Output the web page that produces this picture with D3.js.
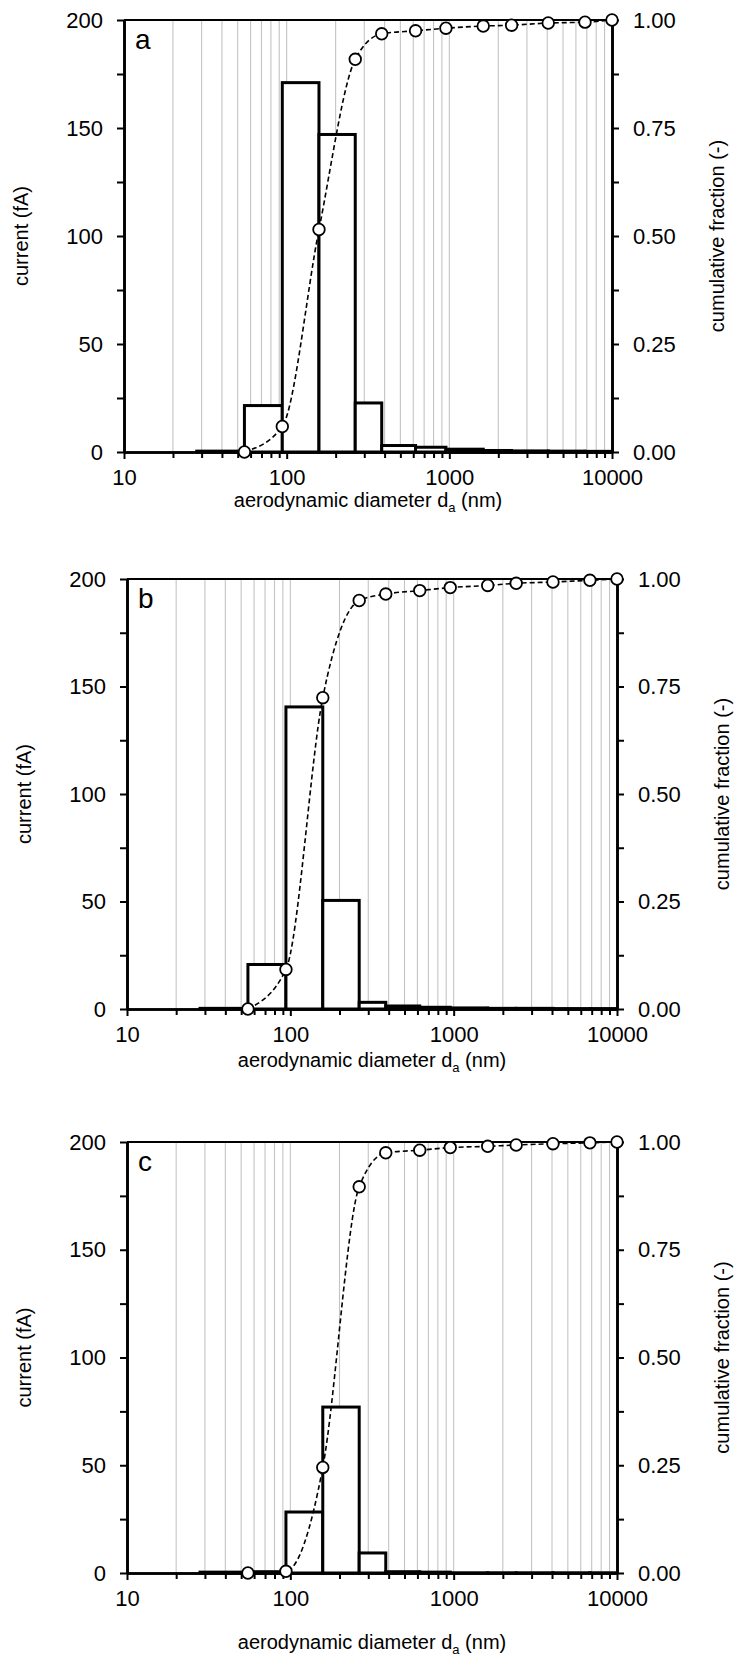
<!DOCTYPE html>
<html>
<head>
<meta charset="utf-8">
<script src="https://d3js.org/d3.v7.min.js"></script>
<style>
  body { margin: 0; background: #fff; }
  text { font-family: "Liberation Sans", Arial, sans-serif; fill: #000; }
</style>
</head>
<body>
<script>
// stage boundaries (nm)
var cutPoints = [28, 55, 94, 158, 264, 384, 620, 953, 1616, 2414, 4055, 6824, 10000];

// current per stage (fA), one value per bin between cut points
var currentA = [0.4, 21.5, 171, 147, 22.7, 3.0, 2.2, 1.3, 0.7, 0.5, 0.4, 0.3];
var currentB = [0.3, 20.7, 140.5, 50.5, 3.1, 1.4, 0.8, 0.5, 0.3, 0.3, 0.2, 0.2];
var currentC = [0.4, 0.6, 28.3, 77, 9.3, 0.6, 0.4, 0.1, 0.1, 0.1, 0.1, 0.1];

// cumulative fraction at the upper cut points 55 ... 10000
var cumSizes = cutPoints.slice(1);
var cumA = [0, 0.059, 0.515, 0.909, 0.968, 0.975, 0.981, 0.986, 0.988, 0.993, 0.995, 1.0];
var cumB = [0, 0.092, 0.724, 0.95, 0.965, 0.973, 0.98, 0.985, 0.99, 0.993, 0.997, 1.0];
var cumC = [0, 0.004, 0.245, 0.896, 0.975, 0.981, 0.987, 0.99, 0.993, 0.996, 0.998, 1.0];

// ticks
var currentTicks = [0, 50, 100, 150, 200];
var currentMinor = [25, 75, 125, 175];
var fracTicks = [0, 0.25, 0.5, 0.75, 1];
var fracMinor = [0.125, 0.375, 0.625, 0.875];
var sizeTicks = [10, 100, 1000, 10000];

var w = 736, h = 1662;
var tickFs = 22, titleFs = 20;

var panels = [
  {letter: "a", current: currentA, cum: cumA, left: 124, right: 612, top: 20, bottom: 452, titleGap: 48},
  {letter: "b", current: currentB, cum: cumB, left: 127, right: 617, top: 579, bottom: 1009, titleGap: 51},
  {letter: "c", current: currentC, cum: cumC, left: 127, right: 617, top: 1142, bottom: 1573, titleGap: 69}
];

// minor ticks / grid on the log axis
var minorSizes = [];
[10, 100, 1000].forEach(function(dec) {
  for (var k = 2; k <= 9; k++) minorSizes.push(k * dec);
});
var gridSizes = minorSizes.concat([100, 1000]);

var svg = d3.select("body").append("svg")
  .attr("width", w)
  .attr("height", h);

panels.forEach(function(p) {
  var g = svg.append("g");

  var x = d3.scaleLog().domain([10, 10000]).range([p.left, p.right]);
  var y = d3.scaleLinear().domain([0, 200]).range([p.bottom, p.top]);
  var y2 = d3.scaleLinear().domain([0, 1]).range([p.bottom, p.top]);

  // gridlines
  g.append("g").selectAll("line")
    .data(gridSizes)
    .enter().append("line")
    .attr("x1", d => x(d)).attr("x2", d => x(d))
    .attr("y1", p.top).attr("y2", p.bottom)
    .attr("stroke", "#c4c4c4")
    .attr("stroke-width", 1.1);

  // histogram bars
  g.append("g").selectAll("rect")
    .data(p.current)
    .enter().append("rect")
    .attr("x", (d, i) => x(cutPoints[i]))
    .attr("width", (d, i) => x(cutPoints[i + 1]) - x(cutPoints[i]))
    .attr("y", d => y(d))
    .attr("height", d => y(0) - y(d))
    .attr("fill", "#fff")
    .attr("stroke", "#000")
    .attr("stroke-width", 3);

  // frame top
  g.append("line")
    .attr("x1", p.left).attr("x2", p.right)
    .attr("y1", p.top).attr("y2", p.top)
    .attr("stroke", "#000").attr("stroke-width", 2);

  // left axis
  g.append("g")
    .attr("transform", "translate(" + p.left + ",0)")
    .call(d3.axisLeft(y).tickValues(currentTicks).tickSize(7).tickPadding(14).tickSizeOuter(0));
  g.append("g")
    .attr("transform", "translate(" + p.left + ",0)")
    .call(d3.axisLeft(y).tickValues(currentMinor).tickSize(7).tickFormat("").tickSizeOuter(0));

  // right axis
  g.append("g")
    .attr("transform", "translate(" + p.right + ",0)")
    .call(d3.axisRight(y2).tickValues(fracTicks).tickSize(7).tickPadding(14)
      .tickFormat(d3.format(".2f")).tickSizeOuter(0));
  g.append("g")
    .attr("transform", "translate(" + p.right + ",0)")
    .call(d3.axisRight(y2).tickValues(fracMinor).tickSize(7).tickFormat("").tickSizeOuter(0));

  // bottom axis
  g.append("g")
    .attr("transform", "translate(0," + p.bottom + ")")
    .call(d3.axisBottom(x).tickValues(sizeTicks).tickSize(7).tickPadding(10)
      .tickFormat(d3.format("d")).tickSizeOuter(0));
  g.append("g")
    .attr("transform", "translate(0," + p.bottom + ")")
    .call(d3.axisBottom(x).tickValues(minorSizes).tickSize(6).tickFormat("").tickSizeOuter(0));

  g.selectAll(".domain").attr("stroke", "#000").attr("stroke-width", 2.6);
  g.selectAll(".tick line").attr("stroke", "#000").attr("stroke-width", 2);
  g.selectAll(".tick text")
    .style("font-family", "'Liberation Sans', Arial, sans-serif")
    .style("font-size", tickFs + "px")
    .attr("fill", "#000");

  // cumulative curve
  var pts = cumSizes.map((s, i) => [s, p.cum[i]]);
  var line = d3.line()
    .x(d => x(d[0]))
    .y(d => y2(d[1]))
    .curve(d3.curveMonotoneX);

  g.append("path")
    .datum(pts)
    .attr("d", line)
    .attr("fill", "none")
    .attr("stroke", "#000")
    .attr("stroke-width", 1.6)
    .attr("stroke-dasharray", "5,3");

  g.append("g").selectAll("circle")
    .data(pts)
    .enter().append("circle")
    .attr("cx", d => x(d[0]))
    .attr("cy", d => y2(d[1]))
    .attr("r", 5.8)
    .attr("fill", "#fff")
    .attr("stroke", "#000")
    .attr("stroke-width", 1.8);

  // panel letter
  g.append("text")
    .attr("x", p.left + 11)
    .attr("y", p.top + 29)
    .style("font-size", "28px")
    .text(p.letter);

  // axis titles
  var midY = (p.top + p.bottom) / 2;
  g.append("text")
    .attr("transform", "translate(" + (p.left - 103) + "," + midY + ") rotate(-90)")
    .attr("text-anchor", "middle")
    .attr("dy", "0.35em")
    .style("font-size", titleFs + "px")
    .text("current (fA)");

  g.append("text")
    .attr("transform", "translate(" + (p.right + 105) + "," + midY + ") rotate(-90)")
    .attr("text-anchor", "middle")
    .attr("dy", "0.35em")
    .style("font-size", titleFs + "px")
    .text("cumulative fraction (-)");

  var xt = g.append("text")
    .attr("x", (p.left + p.right) / 2)
    .attr("y", p.bottom + p.titleGap + 7)
    .attr("text-anchor", "middle")
    .style("font-size", titleFs + "px");
  xt.append("tspan").text("aerodynamic diameter d");
  xt.append("tspan").attr("dy", 5).style("font-size", "13px").text("a");
  xt.append("tspan").attr("dy", -5).text(" (nm)");
});
</script>
</body>
</html>
